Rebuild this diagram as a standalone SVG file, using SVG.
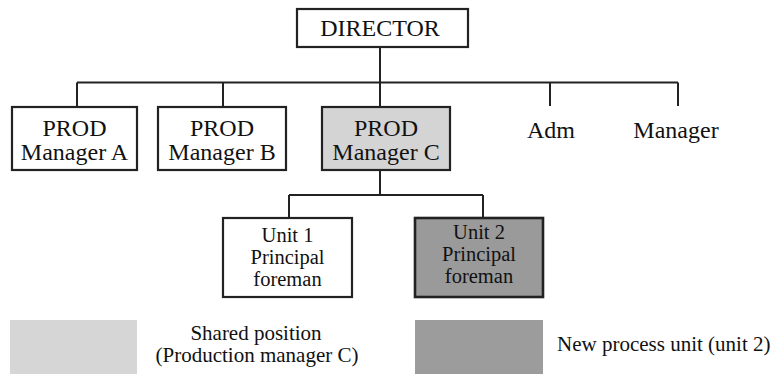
<svg xmlns="http://www.w3.org/2000/svg" width="776" height="374" viewBox="0 0 776 374">
<style>
text{font-family:"Liberation Serif","Times New Roman",serif;fill:#111;text-anchor:middle}
.n{font-size:24px}
.u{font-size:20.5px}
.l{font-size:21px}
.box{stroke:#222;stroke-width:2.2;fill:#fff}
.c{fill:none;stroke:#222;stroke-width:2}
</style>
<rect width="776" height="374" fill="#fff"/>
<g id="connectors">
<path class="c" d="M380 47V108M77 82.5H678M77 82.5V108M223 82.5V108M550 82.5V106M678 82.5V106M380 170V195M289 195H483M289 195V218M483 195V218"/>
</g>
<g id="director"><rect class="box" x="297" y="9" width="171" height="38"/><text class="n" x="380" y="36">DIRECTOR</text></g>
<g id="prodA"><rect class="box" x="12" y="107" width="125" height="63"/><text class="n" x="74.5" y="136">PROD</text><text class="n" x="74.5" y="160">Manager A</text></g>
<g id="prodB"><rect class="box" x="158" y="107" width="128" height="63"/><text class="n" x="222" y="136">PROD</text><text class="n" x="222" y="160">Manager B</text></g>
<g id="prodC"><rect class="box" x="322" y="107" width="128" height="63" style="fill:#d4d4d4"/><text class="n" x="386" y="136">PROD</text><text class="n" x="386" y="160">Manager C</text></g>
<g id="adm"><text class="n" x="551" y="138">Adm</text></g>
<g id="manager"><text class="n" x="676" y="138">Manager</text></g>
<g id="unit1"><rect class="box" x="223" y="218" width="129" height="79"/><text class="u" x="287.5" y="242">Unit 1</text><text class="u" x="287.5" y="264">Principal</text><text class="u" x="287.5" y="286">foreman</text></g>
<g id="unit2"><rect class="box" x="415" y="218" width="128" height="79" style="fill:#9a9a9a;stroke-width:2.6"/><text class="u" x="479" y="239">Unit 2</text><text class="u" x="479" y="261">Principal</text><text class="u" x="479" y="283">foreman</text></g>
<g id="legend-shared"><rect x="10" y="320" width="127" height="54" fill="#d6d6d6"/><text class="l" x="256" y="340">Shared position</text><text class="l" x="257" y="362">(Production manager C)</text></g>
<g id="legend-new"><rect x="415" y="320" width="128" height="54" fill="#9c9c9c"/><text class="l" x="557" y="351" style="text-anchor:start">New process unit (unit 2)</text></g>
</svg>
